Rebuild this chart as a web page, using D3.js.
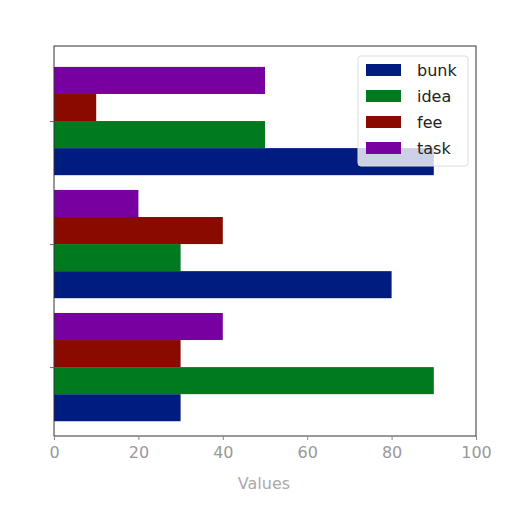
<!DOCTYPE html>
<html><head><meta charset="utf-8">
<script src="https://cdn.jsdelivr.net/npm/d3@7"></script>
<style>body{margin:0;background:#fff}</style>
</head><body>
<svg id="c" width="512" height="512"></svg>
<script>
const categories = ["C1", "C2", "C3"]; // bottom to top
const seriesNames = ["bunk", "idea", "fee", "task"];
const bunk = [30, 80, 90];
const idea = [90, 30, 50];
const fee  = [30, 40, 10];
const task = [40, 20, 50];
const colors = ["#001c80", "#007a1e", "#8b0a00", "#7800a0"];
const xTicks = [0, 20, 40, 60, 80, 100];
const xLabel = "Values";

const series = [bunk, idea, fee, task];
const m = {l: 54, r: 476, t: 46, b: 436};
const svg = d3.select("#c");
const x = d3.scaleLinear().domain([0, 100]).range([m.l, m.r]);
const barH = 0.22;
const y = d3.scaleLinear().domain([-0.56, categories.length - 1 + 0.61]).range([m.b, m.t]);

series.forEach((vals, si) => {
  const off = (si - 1.5) * barH;
  svg.append("g").selectAll("rect").data(vals).join("rect")
    .attr("x", x(0))
    .attr("y", (d, i) => y(i + off + barH / 2))
    .attr("width", d => x(d) - x(0))
    .attr("height", y(0) - y(barH))
    .attr("fill", colors[si]);
});

svg.append("rect").attr("x", m.l).attr("y", m.t).attr("width", m.r - m.l).attr("height", m.b - m.t)
  .attr("fill", "none").attr("stroke", "#333").attr("stroke-width", 1);

const xa = svg.append("g").attr("transform", `translate(0,${m.b})`)
  .call(d3.axisBottom(x).tickValues(xTicks).tickSize(4).tickPadding(7));
xa.select(".domain").remove();
xa.selectAll("line").attr("stroke", "#888");
xa.selectAll("text").attr("fill", "#999").style("font-family", "DejaVu Sans").style("font-size", "16px");

const ya = svg.append("g").attr("transform", `translate(${m.l},0)`)
  .call(d3.axisLeft(y).tickValues(categories.map((c, i) => i)).tickFormat("").tickSize(4));
ya.select(".domain").remove();
ya.selectAll("line").attr("stroke", "#666");

svg.append("text").attr("x", 264).attr("y", 489).attr("text-anchor", "middle")
  .attr("fill", "#aaa").style("font-family", "DejaVu Sans").style("font-size", "16px").text(xLabel);

const lg = svg.append("g");
lg.append("rect").attr("x", 358).attr("y", 56).attr("width", 110).attr("height", 110).attr("rx", 3)
  .attr("fill", "#fff").attr("fill-opacity", 0.8).attr("stroke", "#ddd");
seriesNames.forEach((n, i) => {
  const yy = 70 + i * 26;
  lg.append("rect").attr("x", 366).attr("y", yy - 6).attr("width", 35).attr("height", 12).attr("fill", colors[i]);
  lg.append("text").attr("x", 417).attr("y", yy + 6).attr("fill", "#222")
    .style("font-family", "DejaVu Sans").style("font-size", "16px").text(n);
});
</script>
</body></html>
